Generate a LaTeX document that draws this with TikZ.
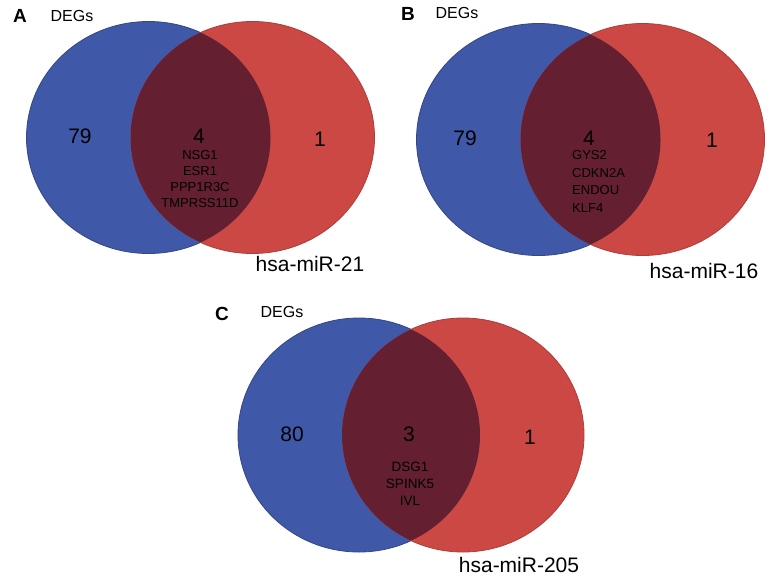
\documentclass[tikz,border=0pt]{standalone}
\usepackage{fontspec}
\setmainfont{Liberation Sans}
\definecolor{degblue}{RGB}{64,88,168}
\definecolor{mirred}{RGB}{204,72,68}
\definecolor{overlap}{RGB}{100,31,48}
\begin{document}
\begin{tikzpicture}[x=1pt,y=-1pt,inner sep=0pt,
	panel/.style={font=\fontsize{19}{19}\selectfont\bfseries},
	setname/.style={font=\fontsize{16}{16}\selectfont},
	count/.style={font=\fontsize{21}{21}\selectfont},
	genes/.style={font=\fontsize{13}{16}\selectfont,align=center},
	mirname/.style={font=\fontsize{21}{21}\selectfont},
	rim/.style={line width=0.8pt}]
			\useasboundingbox[fill=white] (0,0) rectangle (776,576);
			
			% A
			\coordinate (DA) at (148.5,137.5);
			\coordinate (MA) at (252.5,137.5);
			\fill[degblue] (DA) ellipse (122 and 116);
			\fill[mirred] (MA) ellipse (122 and 116);
			\begin{scope}
				\clip (DA) ellipse (122 and 116);
				\fill[overlap] (MA) ellipse (122 and 116);
			\end{scope}
			\begin{scope}[even odd rule]
				\clip (0,0) rectangle (776,576) (MA) ellipse (122 and 116);
				\draw[rim,degblue!80!black] (DA) ellipse (122 and 116);
			\end{scope}
			\begin{scope}[even odd rule]
				\clip (0,0) rectangle (776,576) (DA) ellipse (122 and 116);
				\draw[rim,mirred!85!black] (MA) ellipse (122 and 116);
			\end{scope}
			
			\node[panel] (labA) at (20,16) {A};
			\node[setname] (degA) at (72,16) {DEGs};
			\node[count] (onlyDA) at (80,136) {79};
			\node[count] (bothA) at (199,136) {4};
			\node[count] (onlyMA) at (320,139) {1};
			\node[genes] (genesA) at (200,179) {NSG1\\ESR1\\PPP1R3C\\TMPRSS11D};
			\node[mirname] (mirA) at (310,264) {hsa-miR-21};
			
			% B
			\coordinate (DB) at (538.5,139.5);
			\coordinate (MB) at (642.5,139.5);
			\fill[degblue] (DB) ellipse (122 and 116);
			\fill[mirred] (MB) ellipse (122 and 116);
			\begin{scope}
				\clip (DB) ellipse (122 and 116);
				\fill[overlap] (MB) ellipse (122 and 116);
			\end{scope}
			\begin{scope}[even odd rule]
				\clip (0,0) rectangle (776,576) (MB) ellipse (122 and 116);
				\draw[rim,degblue!80!black] (DB) ellipse (122 and 116);
			\end{scope}
			\begin{scope}[even odd rule]
				\clip (0,0) rectangle (776,576) (DB) ellipse (122 and 116);
				\draw[rim,mirred!85!black] (MB) ellipse (122 and 116);
			\end{scope}
			
			\node[panel] (labB) at (408,14) {B};
			\node[setname] (degB) at (457,13) {DEGs};
			\node[count] (onlyDB) at (465,138) {79};
			\node[count] (bothB) at (589,138) {4};
			\node[count] (onlyMB) at (712,140) {1};
			\node[genes,align=left,anchor=west,font=\fontsize{13}{17.6}\selectfont] (genesB) at (572,181.5) {GYS2\\CDKN2A\\ENDOU\\KLF4};
			\node[mirname] (mirB) at (704,271) {hsa-miR-16};
			
			% C
			\coordinate (DC) at (359,435);
			\coordinate (MC) at (463,435);
			\fill[degblue] (DC) ellipse (121 and 117);
			\fill[mirred] (MC) ellipse (121 and 117);
			\begin{scope}
				\clip (DC) ellipse (121 and 117);
				\fill[overlap] (MC) ellipse (121 and 117);
			\end{scope}
			\begin{scope}[even odd rule]
				\clip (0,0) rectangle (776,576) (MC) ellipse (121 and 117);
				\draw[rim,degblue!80!black] (DC) ellipse (121 and 117);
			\end{scope}
			\begin{scope}[even odd rule]
				\clip (0,0) rectangle (776,576) (DC) ellipse (121 and 117);
				\draw[rim,mirred!85!black] (MC) ellipse (121 and 117);
			\end{scope}
			
			\node[panel] (labC) at (222,314) {C};
			\node[setname] (degC) at (282,312) {DEGs};
			\node[count] (onlyDC) at (292,434) {80};
			\node[count] (bothC) at (409,434) {3};
			\node[count] (onlyMC) at (530,437) {1};
			\node[genes,font=\fontsize{13.5}{17}\selectfont] (genesC) at (410,484) {DSG1\\SPINK5\\IVL};
			\node[mirname] (mirC) at (519,565) {hsa-miR-205};
	\end{tikzpicture}
\end{document}
